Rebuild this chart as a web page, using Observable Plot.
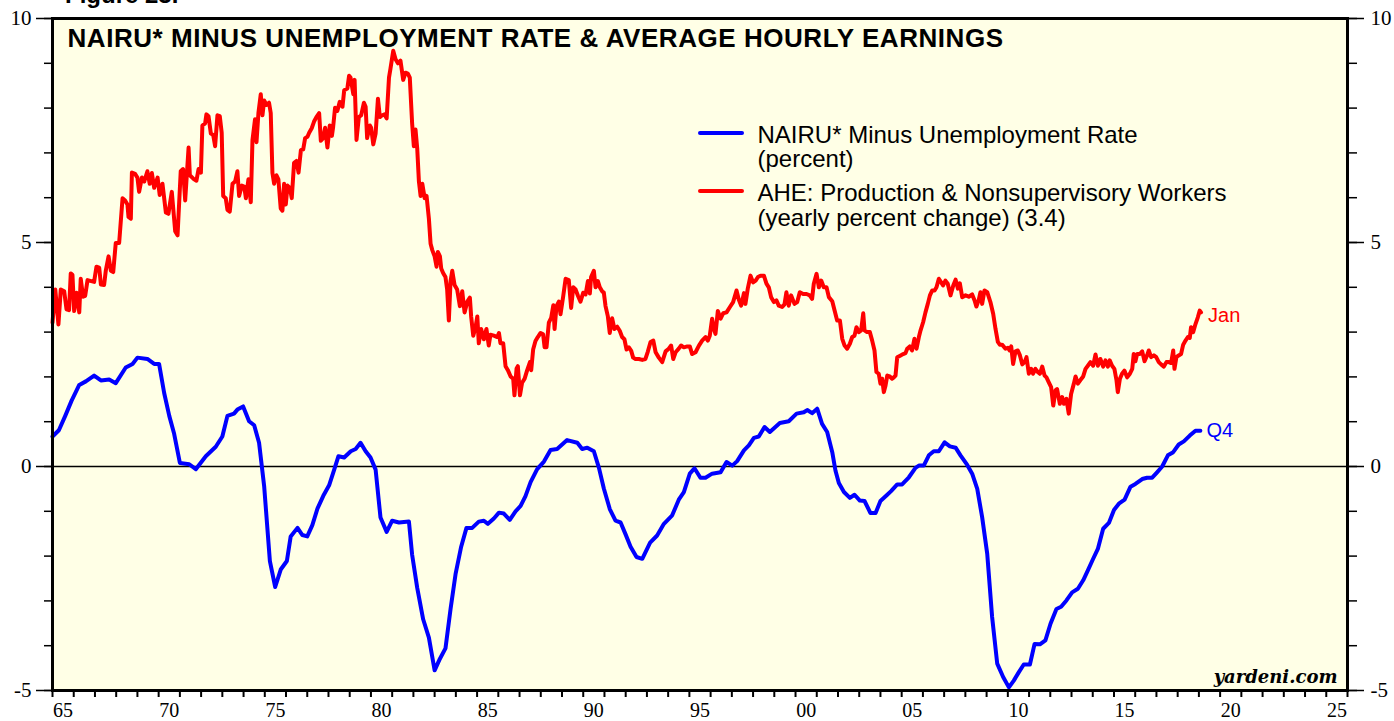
<!DOCTYPE html>
<html>
<head>
<meta charset="utf-8">
<script src="https://cdn.jsdelivr.net/npm/d3@7"></script>
<script src="https://cdn.jsdelivr.net/npm/@observablehq/plot@0.6"></script>
<style>
  html, body { margin: 0; padding: 0; background: #fff; }
  #wrap { position: relative; width: 1394px; height: 721px; overflow: hidden; }
  .fig { position: absolute; left: 65px; top: -17px; font: bold 24px "Liberation Sans", Arial, sans-serif; line-height: 24px; color: #000; white-space: nowrap; }
  .sw { position: absolute; height: 4px; border-radius: 2px; }
</style>
</head>
<body>
<div id="wrap">
  <div id="chart"></div>
  <div class="fig">Figure 23.</div>
  <div class="sw" style="left:698px; top:131px; width:46px; background:#0000ff;"></div>
  <div class="sw" style="left:698px; top:188.5px; width:46px; background:#ff0000;"></div>
</div>
<script>
// ---- Data ----
const titleText = "NAIRU* MINUS UNEMPLOYMENT RATE & AVERAGE HOURLY EARNINGS";
const legendBlue = "NAIRU* Minus Unemployment Rate\n(percent)";
const legendRed = "AHE: Production & Nonsupervisory Workers\n(yearly percent change) (3.4)";
const sourceText = "yardeni.com";
const redEndLabel = "Jan";
const blueEndLabel = "Q4";

const yMajorTicks = [-5, 0, 5, 10];
const yMinorTicks = d3.range(-5, 11);
const xYearTicks = d3.range(1965, 2027);
const xLabelYears = [1965, 1970, 1975, 1980, 1985, 1990, 1995, 2000, 2005, 2010, 2015, 2020, 2025];

// NAIRU* minus unemployment rate (quarterly, percent)
const blueYear = [1965.0,1965.3,1965.6,1965.9,1966.26,1966.57,1966.96,1967.28,1967.67,1967.98,1968.45,1968.77,1969.0,1969.47,1969.79,1970.02,1970.26,1970.5,1970.73,1971.0,1971.44,1971.75,1972.22,1972.69,1973.0,1973.24,1973.55,1973.71,1973.98,1974.26,1974.5,1974.73,1974.97,1975.24,1975.49,1975.75,1976.04,1976.22,1976.54,1976.77,1977.0,1977.24,1977.48,1977.75,1978.03,1978.27,1978.47,1978.74,1979.05,1979.28,1979.51,1979.75,1979.98,1980.22,1980.45,1980.74,1981.0,1981.32,1981.79,1981.94,1982.18,1982.46,1982.73,1983.0,1983.25,1983.51,1983.75,1983.99,1984.25,1984.5,1984.77,1985.08,1985.32,1985.51,1985.79,1986.03,1986.26,1986.54,1986.81,1987.05,1987.28,1987.52,1987.83,1988.15,1988.46,1988.77,1989.24,1989.72,1989.95,1990.19,1990.5,1990.74,1990.97,1991.25,1991.52,1991.76,1991.99,1992.23,1992.51,1992.78,1993.15,1993.48,1993.8,1994.19,1994.5,1994.74,1995.02,1995.24,1995.52,1995.76,1996.07,1996.47,1996.75,1997.02,1997.25,1997.57,1997.8,1998.04,1998.27,1998.54,1998.79,1999.26,1999.68,2000.05,2000.39,2000.55,2000.78,2001.02,2001.25,2001.49,2001.73,2001.88,2002.04,2002.28,2002.56,2002.78,2003.03,2003.25,2003.53,2003.77,2004.0,2004.32,2004.5,2004.79,2005.02,2005.34,2005.65,2005.81,2006.04,2006.28,2006.51,2006.75,2007.02,2007.27,2007.54,2007.77,2008.08,2008.32,2008.56,2008.79,2009.03,2009.26,2009.5,2009.78,2010.05,2010.28,2010.52,2010.75,2011.04,2011.26,2011.51,2011.77,2012.01,2012.29,2012.51,2012.76,2013.03,2013.3,2013.55,2013.77,2014.02,2014.24,2014.49,2014.76,2015.0,2015.23,2015.5,2015.78,2016.01,2016.33,2016.56,2016.8,2017.03,2017.27,2017.54,2017.79,2018.05,2018.29,2018.57,2018.84,2019.07];
const blueValue = [0.67,0.81,1.13,1.47,1.82,1.90,2.03,1.92,1.94,1.86,2.21,2.29,2.43,2.40,2.29,2.29,1.64,1.13,0.73,0.08,0.05,-0.06,0.23,0.44,0.67,1.13,1.18,1.27,1.34,1.01,0.92,0.53,-0.44,-2.11,-2.69,-2.30,-2.11,-1.56,-1.37,-1.53,-1.56,-1.31,-0.94,-0.66,-0.42,-0.07,0.23,0.20,0.34,0.39,0.53,0.34,0.20,-0.07,-1.14,-1.46,-1.21,-1.25,-1.23,-1.97,-2.71,-3.41,-3.82,-4.55,-4.29,-4.06,-3.18,-2.39,-1.79,-1.37,-1.37,-1.23,-1.21,-1.28,-1.16,-1.03,-1.05,-1.19,-1.00,-0.88,-0.66,-0.35,-0.06,0.11,0.37,0.39,0.59,0.53,0.39,0.42,0.34,-0.03,-0.49,-0.95,-1.21,-1.25,-1.51,-1.79,-2.02,-2.06,-1.70,-1.54,-1.28,-1.09,-0.74,-0.57,-0.16,-0.04,-0.25,-0.25,-0.16,-0.13,0.10,0.02,0.12,0.36,0.47,0.64,0.67,0.88,0.77,0.97,1.01,1.18,1.21,1.26,1.19,1.29,0.95,0.77,0.32,-0.09,-0.37,-0.57,-0.70,-0.63,-0.76,-0.77,-1.04,-1.04,-0.77,-0.63,-0.55,-0.40,-0.40,-0.24,-0.03,0.02,0.02,0.25,0.34,0.34,0.54,0.45,0.42,0.25,0.04,-0.16,-0.50,-1.13,-1.95,-3.36,-4.40,-4.70,-4.93,-4.78,-4.59,-4.42,-4.42,-3.96,-3.97,-3.88,-3.51,-3.18,-3.13,-2.99,-2.81,-2.73,-2.54,-2.32,-2.06,-1.84,-1.39,-1.26,-0.97,-0.83,-0.74,-0.45,-0.39,-0.28,-0.25,-0.25,-0.13,0.00,0.25,0.32,0.49,0.56,0.69,0.80,0.80];

// AHE production & nonsupervisory workers (monthly, yearly percent change)
const redYear = [1965.0,1965.13,1965.28,1965.39,1965.55,1965.66,1965.78,1965.86,1965.94,1966.02,1966.13,1966.26,1966.33,1966.44,1966.54,1966.65,1966.96,1967.07,1967.2,1967.28,1967.43,1967.51,1967.64,1967.75,1967.86,1967.98,1968.14,1968.3,1968.42,1968.53,1968.58,1968.69,1968.74,1968.89,1969.0,1969.08,1969.21,1969.32,1969.47,1969.58,1969.68,1969.79,1969.95,1970.05,1970.18,1970.34,1970.46,1970.62,1970.78,1970.89,1971.04,1971.15,1971.25,1971.41,1971.47,1971.67,1971.78,1971.88,1971.99,1972.06,1972.19,1972.25,1972.35,1972.46,1972.57,1972.66,1972.77,1972.88,1972.97,1973.04,1973.16,1973.24,1973.35,1973.48,1973.6,1973.71,1973.79,1973.92,1974.03,1974.11,1974.23,1974.34,1974.42,1974.54,1974.61,1974.7,1974.81,1974.89,1974.97,1975.08,1975.2,1975.28,1975.36,1975.44,1975.55,1975.64,1975.75,1975.83,1975.91,1975.99,1976.07,1976.18,1976.27,1976.38,1976.49,1976.59,1976.7,1976.81,1976.9,1977.01,1977.09,1977.21,1977.32,1977.43,1977.56,1977.64,1977.75,1977.84,1977.95,1978.06,1978.16,1978.22,1978.31,1978.42,1978.53,1978.66,1978.74,1978.89,1978.97,
1979.04,1979.17,1979.23,1979.32,1979.43,1979.54,1979.67,1979.75,1979.82,1979.95,1980.01,1980.11,1980.22,1980.33,1980.42,1980.53,1980.64,1980.74,1980.85,1980.92,1981.05,1981.16,1981.27,1981.39,1981.52,1981.63,1981.74,1981.83,1981.94,1982.02,1982.1,1982.18,1982.26,1982.34,1982.42,1982.53,1982.62,1982.73,1982.81,1982.89,1983.0,1983.09,1983.15,1983.25,1983.31,1983.4,1983.51,1983.59,1983.67,1983.75,1983.83,1983.94,1984.06,1984.19,1984.3,1984.41,1984.54,1984.66,1984.72,1984.82,1984.93,1985.01,1985.08,1985.19,1985.32,1985.44,1985.55,1985.63,1985.79,1985.95,1986.03,1986.1,1986.23,1986.34,1986.45,1986.58,1986.7,1986.76,1986.86,1986.92,1987.02,1987.12,1987.24,1987.36,1987.49,1987.55,1987.64,1987.75,1987.86,1987.99,1988.11,1988.18,1988.27,1988.38,1988.49,1988.59,1988.65,1988.74,1988.85,1988.93,1989.06,1989.17,1989.32,1989.43,1989.53,1989.64,1989.75,1989.87,1990.0,1990.11,1990.22,1990.31,1990.37,1990.5,1990.58,1990.69,1990.78,1990.89,1990.97,1991.05,1991.16,1991.25,1991.36,1991.47,1991.6,1991.72,1991.83,1991.94,1992.04,1992.15,1992.26,1992.35,1992.46,1992.62,1992.78,1992.93,1993.04,
1993.17,1993.3,1993.41,1993.56,1993.72,1993.88,1994.03,1994.14,1994.24,1994.35,1994.5,1994.61,1994.74,1994.9,1995.02,1995.13,1995.29,1995.45,1995.6,1995.76,1995.87,1995.96,1996.07,1996.15,1996.23,1996.34,1996.47,1996.59,1996.75,1996.91,1997.06,1997.22,1997.33,1997.44,1997.57,1997.64,1997.75,1997.88,1998.0,1998.12,1998.23,1998.35,1998.51,1998.63,1998.74,1998.85,1998.98,1999.1,1999.21,1999.37,1999.48,1999.57,1999.68,1999.79,1999.95,2000.08,2000.2,2000.36,2000.52,2000.67,2000.78,2000.86,2000.99,2001.1,2001.21,2001.33,2001.46,2001.57,2001.73,2001.84,2001.96,2002.09,2002.2,2002.31,2002.43,2002.56,2002.67,2002.78,2002.87,2002.98,2003.09,2003.19,2003.25,2003.37,2003.5,2003.61,2003.72,2003.81,2003.92,2004.0,2004.08,2004.16,2004.24,2004.32,2004.44,2004.55,2004.63,2004.71,2004.79,2004.95,2005.07,2005.18,2005.26,2005.38,2005.49,2005.6,2005.7,2005.81,2005.89,2006.01,2006.12,2006.23,2006.33,2006.44,2006.55,2006.64,2006.75,2006.86,2006.95,2007.06,2007.17,
2007.3,2007.43,2007.54,2007.65,2007.74,2007.85,2008.01,2008.16,2008.32,2008.43,2008.52,2008.63,2008.71,2008.79,2008.9,2009.03,2009.18,2009.31,2009.42,2009.53,2009.62,2009.73,2009.89,2010.0,2010.09,2010.16,2010.25,2010.36,2010.47,2010.57,2010.68,2010.79,2010.88,2010.99,2011.1,2011.19,2011.3,2011.41,2011.51,2011.62,2011.73,2011.82,2011.93,2012.04,2012.14,2012.25,2012.32,2012.45,2012.56,2012.64,2012.76,2012.87,2012.98,2013.11,2013.19,2013.3,2013.42,2013.55,2013.66,2013.77,2013.89,2014.02,2014.13,2014.24,2014.36,2014.49,2014.6,2014.71,2014.8,2014.91,2015.02,2015.12,2015.18,2015.28,2015.38,2015.49,2015.62,2015.75,2015.86,2015.93,2016.01,2016.09,2016.22,2016.33,2016.44,2016.56,2016.64,2016.75,2016.88,2016.99,2017.11,2017.22,2017.35,2017.47,2017.58,2017.69,2017.79,2017.85,2017.94,2018.05,2018.16,2018.26,2018.37,2018.48,2018.57,2018.63,2018.73,2018.84,2018.95,2019.04,2019.1];
const redValue = [3.21,3.95,3.17,3.95,3.91,3.51,3.49,4.31,4.28,3.47,3.88,3.44,4.19,3.79,3.81,4.16,4.12,4.46,4.44,4.06,4.05,4.37,4.69,4.37,4.34,4.99,4.99,5.99,5.94,5.85,5.57,5.53,6.56,6.53,6.45,6.13,6.45,6.36,6.59,6.31,6.55,6.22,6.45,6.06,6.31,5.67,5.64,6.13,5.25,5.16,6.59,6.64,5.94,7.12,6.50,6.41,6.38,6.64,6.56,7.61,7.66,7.86,7.82,7.43,7.40,7.15,7.84,7.82,7.45,6.04,5.99,5.73,5.69,6.31,6.36,6.59,6.04,6.27,6.25,5.99,6.41,5.90,7.29,7.75,7.24,7.89,8.31,7.84,8.17,8.07,8.12,7.89,6.55,6.31,6.50,6.41,5.76,5.71,6.31,5.85,6.27,6.22,5.99,6.78,6.82,6.56,7.06,7.08,7.33,7.36,7.45,7.55,7.70,7.80,7.89,7.27,7.33,7.56,7.12,7.61,7.38,7.58,8.01,7.94,8.14,8.03,8.40,8.44,8.72,
8.68,8.31,8.63,7.29,7.80,7.84,8.12,8.03,7.33,7.61,7.56,7.19,7.43,8.21,7.80,7.84,7.86,7.77,8.68,8.88,9.28,9.09,9.00,9.06,8.63,8.79,8.77,8.68,7.66,7.15,7.52,7.10,6.36,6.04,6.31,5.99,6.04,5.53,4.97,4.83,4.69,4.46,4.79,4.69,4.42,4.32,4.23,3.95,3.26,4.14,4.37,4.05,3.95,3.58,3.91,3.44,3.68,3.77,3.35,2.92,3.12,3.35,2.75,3.07,2.84,3.07,2.70,2.94,2.92,2.89,2.98,2.75,2.75,2.24,2.15,2.01,1.96,1.59,2.19,2.24,1.59,1.87,1.96,2.15,2.33,2.15,2.61,2.80,2.89,2.98,2.95,2.66,2.66,3.21,3.32,3.60,3.07,3.58,3.68,3.40,3.81,4.19,4.16,3.54,4.00,3.95,3.81,3.68,3.88,3.84,4.14,3.86,4.23,4.37,4.00,4.14,4.00,3.91,3.88,3.58,3.35,2.98,3.31,3.07,3.12,3.03,2.89,2.84,2.61,2.66,2.58,2.43,2.40,2.40,2.38,2.40,2.56,
2.78,2.81,2.55,2.43,2.33,2.57,2.63,2.70,2.40,2.55,2.63,2.70,2.66,2.68,2.68,2.51,2.55,2.70,2.81,2.89,2.81,2.92,3.30,3.07,2.96,3.47,3.30,3.42,3.44,3.56,3.67,3.93,3.72,3.59,3.87,3.63,3.97,4.26,4.11,4.15,4.23,4.26,4.26,4.08,4.00,3.78,3.67,3.71,3.59,3.56,3.62,3.89,3.59,3.82,3.63,3.67,3.89,3.85,3.85,3.82,3.74,4.08,4.30,4.00,4.15,4.00,4.00,3.78,3.69,3.48,3.26,3.26,2.85,2.70,2.63,2.74,2.89,2.92,3.11,3.00,3.04,3.42,3.04,3.00,3.00,2.81,2.59,2.11,2.07,1.85,1.96,1.66,1.81,2.03,2.01,1.96,1.99,2.03,2.44,2.48,2.51,2.53,2.63,2.68,2.59,2.85,2.63,2.89,3.04,3.22,3.44,3.63,3.82,3.93,3.93,4.00,4.19,4.11,4.04,4.15,4.08,
3.82,4.04,4.17,3.97,4.09,3.78,3.82,3.79,3.84,3.71,3.57,3.72,3.89,3.63,3.93,3.89,3.67,3.41,3.07,2.78,2.72,2.72,2.63,2.65,2.59,2.68,2.29,2.57,2.59,2.48,2.28,2.33,2.44,2.07,2.18,2.07,2.18,2.11,2.07,2.23,2.03,1.99,1.88,1.77,1.36,1.70,1.73,1.40,1.55,1.40,1.51,1.18,1.62,1.85,2.01,1.85,1.93,2.01,2.18,2.25,2.33,2.25,2.50,2.25,2.40,2.23,2.37,2.23,2.37,2.25,2.18,1.92,1.66,1.96,2.07,2.14,1.99,2.07,2.18,2.51,2.35,2.51,2.51,2.57,2.35,2.48,2.59,2.44,2.48,2.44,2.33,2.28,2.23,2.33,2.33,2.31,2.59,2.18,2.44,2.48,2.51,2.72,2.81,2.89,2.87,3.11,3.00,3.18,3.33,3.48,3.44];

// ---- Build tables ----
const blue = blueYear.map((x, i) => ({x, y: blueValue[i]}));
const red = redYear.map((x, i) => ({x, y: redValue[i]}));
const redEnd = [{...red[red.length - 1], label: redEndLabel}];
const blueEnd = [{...blue[blue.length - 1], label: blueEndLabel}];

const sans = "'Liberation Sans', Arial, Helvetica, sans-serif";
const serif = "'Liberation Serif', 'Times New Roman', serif";
const wideSerif = "'DejaVu Serif', 'Liberation Serif', serif";
const twoDigit = d => String(Math.floor(d) % 100).padStart(2, "0");

const chart = Plot.plot({
  width: 1394,
  height: 721,
  marginLeft: 52,
  marginRight: 47,
  marginTop: 18,
  marginBottom: 31,
  x: {domain: [1965, 2026]},
  y: {domain: [-5, 10]},
  style: {background: "white", overflow: "visible", color: "black"},
  marks: [
    Plot.frame({fill: "#ffffe6", stroke: "none"}),
    Plot.ruleY([0], {stroke: "black", strokeWidth: 1.5}),
    Plot.line(red, {x: "x", y: "y", stroke: "#ff0000", strokeWidth: 4, strokeLinejoin: "round"}),
    Plot.line(blue, {x: "x", y: "y", stroke: "#0000ff", strokeWidth: 4, strokeLinejoin: "round"}),
    Plot.frame({stroke: "black", strokeWidth: 3}),
    // left axis
    Plot.axisY({anchor: "left", ticks: yMinorTicks, tickSize: 8, tickFormat: () => "", strokeWidth: 1.5, label: null}),
    Plot.axisY({anchor: "left", ticks: yMajorTicks, tickSize: 16, tickPadding: 5, tickFormat: d => String(d), strokeWidth: 1.5, fontSize: 21, fontFamily: serif, label: null}),
    // right axis
    Plot.axisY({anchor: "right", ticks: yMinorTicks, tickSize: 9, tickFormat: () => "", strokeWidth: 1.5, label: null}),
    Plot.axisY({anchor: "right", ticks: yMajorTicks, tickSize: 16, tickPadding: 7, tickFormat: d => String(d), strokeWidth: 1.5, fontSize: 21, fontFamily: serif, label: null}),
    // bottom axis
    Plot.axisX({anchor: "bottom", ticks: xYearTicks, tickSize: 7, tickFormat: () => "", strokeWidth: 2, label: null}),
    Plot.axisX({anchor: "bottom", ticks: xLabelYears.map(d => d + 0.5), tickSize: 0, tickPadding: 12, tickFormat: twoDigit, fontSize: 20, fontFamily: serif, label: null}),
    // title
    Plot.text([titleText], {frameAnchor: "top-left", textAnchor: "start", lineAnchor: "bottom", dx: 15, dy: 28, fontSize: 26, fontWeight: "bold", fontFamily: sans, fill: "black"}),
    // legend text
    Plot.text([legendBlue], {frameAnchor: "top-left", textAnchor: "start", lineAnchor: "bottom", dx: 705, dy: 148.5, lineHeight: 1.02, fontSize: 24, fontFamily: sans, fill: "black"}),
    Plot.text([legendRed], {frameAnchor: "top-left", textAnchor: "start", lineAnchor: "bottom", dx: 705, dy: 207, lineHeight: 1.02, fontSize: 24, fontFamily: sans, fill: "black"}),
    // end labels
    Plot.text(redEnd, {x: "x", y: "y", text: "label", fill: "#ff0000", dx: 7, dy: 3, textAnchor: "start", fontSize: 20, fontFamily: sans}),
    Plot.text(blueEnd, {x: "x", y: "y", text: "label", fill: "#0000ff", dx: 6, dy: 0, textAnchor: "start", fontSize: 20, fontFamily: sans}),
    // source
    Plot.text([sourceText], {frameAnchor: "bottom-right", textAnchor: "end", lineAnchor: "bottom", dx: -10, dy: -8, fontSize: 18, fontWeight: "bold", fontStyle: "italic", fontFamily: wideSerif, fill: "black"})
  ]
});
// typographic tracking to match the reference's wider title lettering
d3.select(chart).selectAll("text")
  .filter(function () { return this.textContent === titleText; })
  .style("letter-spacing", "0.55px");
document.getElementById("chart").appendChild(chart);
</script>
</body>
</html>
